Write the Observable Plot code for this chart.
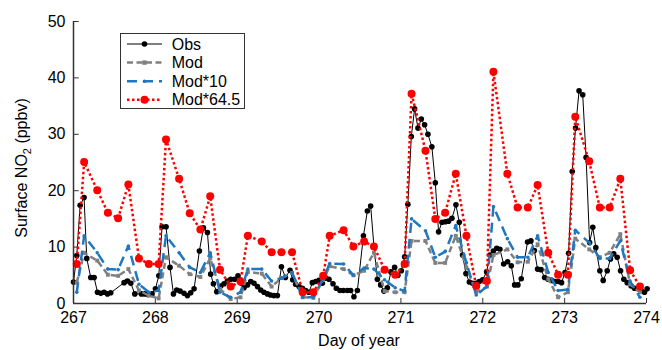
<!DOCTYPE html>
<html><head><meta charset="utf-8">
<script src="https://cdn.jsdelivr.net/npm/d3@7"></script>
<script src="https://cdn.jsdelivr.net/npm/@observablehq/plot@0.6"></script>
<style>body{margin:0;background:#fff;} #chart{width:662px;height:350px;}</style>
</head><body><div id="chart"></div>
<script>
// ---- data ----
const obsDay = [267.000,267.040,267.081,267.129,267.162,267.211,267.252,267.293,267.333,267.374,267.415,267.455,
267.618,267.659,267.700,267.749,267.830,267.871,267.911,267.960,268.001,268.042,268.082,268.131,268.179,268.221,
268.261,268.302,268.350,268.392,268.432,268.473,268.538,268.587,268.636,268.676,268.709,268.750,268.799,268.839,
268.880,268.921,268.970,269.010,269.051,269.083,269.125,269.165,269.205,269.247,269.287,269.327,269.369,269.409,
269.449,269.491,269.540,269.589,269.645,269.678,269.714,269.755,269.796,269.836,269.877,269.918,269.958,269.999,
270.040,270.081,270.121,270.170,270.211,270.255,270.297,270.346,270.386,270.426,270.468,270.542,270.590,270.630,
270.670,270.712,270.752,270.792,270.834,270.878,270.923,270.963,271.005,271.045,271.085,271.127,271.167,271.208,
271.249,271.289,271.330,271.378,271.420,271.460,271.501,271.542,271.582,271.623,271.672,271.713,271.753,271.794,
271.836,271.875,271.916,271.957,271.998,272.047,272.087,272.129,272.170,272.209,272.255,272.304,272.348,272.389,
272.429,272.470,272.547,272.588,272.630,272.669,272.712,272.755,272.797,272.840,272.880,272.922,272.962,273.005,
273.048,273.093,273.133,273.176,273.221,273.262,273.305,273.344,273.381,273.430,273.471,273.520,273.560,273.600,
273.642,273.683,273.723,273.764,273.813,273.853,273.894,273.935,273.975,274.008];
const obsVal = [3.8,8.5,17.4,18.8,8.0,4.6,4.6,2.0,1.8,2.0,1.7,1.9,
3.7,4.0,3.6,1.7,1.7,1.7,1.6,1.7,2.6,4.9,13.6,13.6,6.4,1.7,
2.4,2.2,1.8,1.4,1.9,2.6,9.3,13.4,12.6,5.2,3.5,2.1,3.1,3.5,
4.0,4.3,4.3,4.9,3.6,2.8,3.3,3.9,3.6,3.0,2.4,2.0,1.7,1.5,
1.4,1.4,6.5,4.6,5.9,4.2,3.4,3.0,2.7,2.3,2.0,3.7,3.9,4.1,
3.6,4.5,4.3,3.5,2.7,2.3,2.3,2.3,2.3,1.2,2.3,12.0,16.4,17.3,
10.2,4.3,3.3,2.2,2.8,5.6,6.4,5.0,5.8,8.3,17.6,29.6,34.5,31.1,
32.7,31.7,30.0,27.8,21.4,12.7,14.4,14.5,14.6,15.1,17.5,14.4,8.6,5.3,
3.8,3.6,3.6,3.9,4.2,5.6,8.6,9.3,9.8,9.6,7.0,7.4,6.7,3.3,
3.3,4.4,10.9,11.1,9.4,6.1,6.0,4.6,4.3,4.1,3.9,3.9,3.7,5.5,
8.9,23.4,31.1,37.7,37.0,25.9,10.8,13.5,9.9,5.8,4.1,5.8,7.9,8.8,
8.2,5.8,4.3,3.7,3.1,2.7,2.6,2.3,2.0,2.6];

const modDay = [267.04,267.13,267.29,267.42,267.545,267.67,267.80,267.92,
268.04,268.13,268.29,268.42,268.55,268.67,268.79,268.92,
269.04,269.13,269.30,269.42,269.54,269.67,269.80,269.93,
270.05,270.13,270.30,270.42,270.55,270.67,270.80,270.93,
271.045,271.13,271.30,271.42,271.54,271.67,271.80,271.92,
272.05,272.13,272.30,272.425,272.55,272.67,272.80,272.92,
273.04,273.13,273.30,273.43,273.55,273.68,273.80,273.92];
const modVal = [3.7,9.0,7.6,5.1,4.9,6.1,2.3,1.4,
0.9,8.2,6.7,5.2,4.7,8.0,2.6,0.8,
1.1,5.6,5.3,3.0,4.5,5.4,1.1,1.0,
4.2,6.6,6.1,5.0,5.8,9.0,2.2,2.0,
2.0,11.1,11.1,7.2,7.2,12.0,6.4,2.0,
3.0,8.6,9.6,7.3,7.4,10.5,4.3,1.1,
2.0,11.5,9.6,8.2,9.0,12.3,3.4,2.0];
const mod10Val = [2.0,12.0,9.0,6.1,6.0,10.2,3.4,2.0,
2.3,12.0,9.0,6.4,5.5,9.0,2.0,1.1,
2.0,6.1,6.1,4.0,4.5,5.5,1.1,1.1,
4.4,7.1,7.0,5.0,6.3,6.1,4.2,2.8,
2.2,15.0,12.9,8.2,9.2,13.8,7.2,1.5,
3.0,17.2,11.5,8.2,8.2,12.0,5.5,2.3,
2.5,13.0,10.8,8.0,8.0,11.1,3.9,1.1];
const mod645Val = [7.0,25.1,20.1,16.1,15.1,21.1,8.0,7.0,
7.0,29.1,22.1,16.0,13.1,19.0,6.0,3.0,
3.9,12.0,11.0,9.1,9.1,9.1,2.0,2.0,
4.9,12.0,13.0,10.1,11.0,10.1,6.0,5.1,
7.0,37.2,27.1,15.0,16.1,23.0,12.0,3.1,
4.0,41.1,23.0,17.0,17.0,21.0,9.0,5.1,
5.1,33.1,25.2,17.0,17.0,22.1,5.9,3.0];

const xTicks = [267,268,269,270,271,272,273,274];
const yTicks = [0,10,20,30,40,50];
const seriesNames = ["Obs","Mod","Mod*10","Mod*64.5"];
const xTitle = "Day of year";

// ---- build tables ----
const obs = obsDay.map((d,i)=>({day:d, v:obsVal[i]}));
const mod = modDay.map((d,i)=>({day:d, v:modVal[i]}));
const mod10 = modDay.map((d,i)=>({day:d, v:mod10Val[i]}));
const mod645 = modDay.map((d,i)=>({day:d, v:mod645Val[i]}));

const cObs="#000000", cMod="#808080", cMod10="#1f77bf", cMod645="#ff0000";
const axisColor="#333333";
const dMod="6,3.5", dMod10="10,6", dMod645="2.5,2.5";

const plot = Plot.plot({
  width:662, height:350,
  marginLeft:73, marginRight:16, marginTop:21, marginBottom:47,
  style:{fontFamily:"'Liberation Sans', Arial, sans-serif", fontSize:"16px", color:"#000", background:"#fff", overflow:"visible"},
  x:{domain:[267,274], label:null},
  y:{domain:[0,50], label:null},
  marks:[
    Plot.axisX({ticks:xTicks, tickSize:0, tickPadding:8, label:null, tickFormat:d=>String(d), fontSize:16}),
    Plot.axisY({ticks:yTicks, tickSize:0, tickPadding:8, label:null, fontSize:16}),
    Plot.ruleX(xTicks, {y1:0, y2:0.9, stroke:axisColor, strokeWidth:1}),
    Plot.ruleY(yTicks, {x1:267, x2:267.07, stroke:axisColor, strokeWidth:1}),
    Plot.line(obs, {x:"day", y:"v", stroke:cObs, strokeWidth:1}),
    Plot.dot(obs, {x:"day", y:"v", r:2.8, fill:cObs}),
    Plot.line(mod, {x:"day", y:"v", stroke:cMod, strokeWidth:2.5, strokeDasharray:dMod, strokeLinecap:"butt", strokeLinejoin:"miter"}),
    Plot.dot(mod, {x:"day", y:"v", symbol:"square", r:2.2, fill:cMod}),
    Plot.line(mod10, {x:"day", y:"v", stroke:cMod10, strokeWidth:2.5, strokeDasharray:dMod10, strokeLinecap:"butt", strokeLinejoin:"miter"}),
    Plot.dot(mod10, {x:"day", y:"v", r:1.8, fill:cMod10}),
    Plot.line(mod645, {x:"day", y:"v", stroke:cMod645, strokeWidth:2.5, strokeDasharray:dMod645, strokeLinecap:"butt", strokeLinejoin:"miter"}),
    Plot.dot(mod645, {x:"day", y:"v", r:4, fill:cMod645}),
    Plot.ruleX([267], {y1:0, y2:50, stroke:axisColor, strokeWidth:1.5}),
    Plot.ruleY([0], {stroke:axisColor, strokeWidth:1.5})
  ]
});
document.getElementById("chart").appendChild(plot);

// ---- titles and legend (text / decoration) ----
const svg = d3.select(plot);
const font = "'Liberation Sans', Arial, sans-serif";
svg.append("text").attr("x", 359).attr("y", 346).attr("text-anchor","middle")
  .attr("font-family", font).attr("font-size", 16).attr("fill","#000").text(xTitle);
const yl = svg.append("text").attr("transform","translate(27,168) rotate(-90)").attr("text-anchor","middle")
  .attr("font-family", font).attr("font-size", 16).attr("fill","#000");
yl.append("tspan").text("Surface NO");
yl.append("tspan").attr("font-size", 11).attr("dy", 4).text("2");
yl.append("tspan").attr("dy", -4).text(" (ppbv)");

const lg = svg.append("g");
const styles = [
  {c:cObs, w:1, dash:null, sym:"circle", r:2.8},
  {c:cMod, w:2.5, dash:dMod, sym:"square", r:2.2},
  {c:cMod10, w:2.5, dash:dMod10, sym:"circle", r:1.8},
  {c:cMod645, w:2.5, dash:dMod645, sym:"circle", r:4}
];
lg.append("rect").attr("x",120.5).attr("y",33.5).attr("width",124).attr("height",75)
  .attr("fill","#fff").attr("stroke","#333").attr("stroke-width",1);
seriesNames.forEach((name,i)=>{
  const y = 44 + i*18.6, s = styles[i];
  const ln = lg.append("line").attr("x1",127).attr("x2",162).attr("y1",y).attr("y2",y)
    .attr("stroke",s.c).attr("stroke-width",s.w);
  if (s.dash) ln.attr("stroke-dasharray", s.dash);
  if (s.sym==="square") lg.append("rect").attr("x",144.5-s.r).attr("y",y-s.r).attr("width",2*s.r).attr("height",2*s.r).attr("fill",s.c);
  else lg.append("circle").attr("cx",144.5).attr("cy",y).attr("r",s.r).attr("fill",s.c);
  lg.append("text").attr("x",171.7).attr("y",y+5.5).attr("text-anchor","start").attr("font-family",font).attr("font-size",16).attr("fill","#000").text(name);
});
</script>
</body></html>
